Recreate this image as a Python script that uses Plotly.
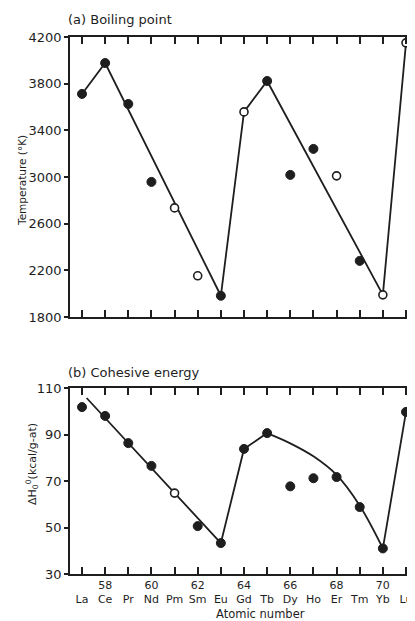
import plotly.graph_objects as go

# ---------------- data ----------------
atomic_numbers = [57, 58, 59, 60, 61, 62, 63, 64, 65, 66, 67, 68, 69, 70, 71]
elements = ["La", "Ce", "Pr", "Nd", "Pm", "Sm", "Eu", "Gd", "Tb", "Dy", "Ho", "Er", "Tm", "Yb", "Lu"]

# (a) boiling point, K
bp_filled_x = [57, 58, 59, 60, 63, 65, 66, 67, 69]
bp_filled_y = [3712, 3977, 3626, 2958, 1982, 3823, 3018, 3241, 2281]
bp_open_x = [61, 62, 64, 68, 70, 71]
bp_open_y = [2735, 2153, 3558, 3010, 1990, 4150]
bp_line_x = [57, 58, 63, 64, 65, 70, 71]
bp_line_y = [3712, 3977, 1982, 3558, 3823, 1990, 4150]

# (b) cohesive energy, kcal/g-at
ce_filled_x = [57, 58, 59, 60, 62, 63, 64, 65, 66, 67, 68, 69, 70, 71]
ce_filled_y = [101.8, 98.0, 86.3, 76.5, 50.6, 43.3, 83.8, 90.6, 67.7, 71.2, 71.7, 58.8, 41.0, 99.7]
ce_open_x = [61]
ce_open_y = [64.8]
ce_line1_x = [57.2, 63, 64, 65]
ce_line1_y = [105.7, 43.3, 83.8, 90.6]
ce_curve_x = [65, 66, 67, 68, 69, 70]
ce_curve_y = [90.6, 86.2, 80.6, 72.6, 59.4, 41.0]
ce_line2_x = [70, 71]
ce_line2_y = [41.0, 99.7]

bp_ticks = [1800, 2200, 2600, 3000, 3400, 3800, 4200]
ce_ticks = [30, 50, 70, 90, 110]

# ---------------- layout geometry ----------------
W, H = 415, 621
OFF = 8            # page body margin of the html page
INK = "#1e1e1e"
FONT = "DejaVu Sans"

L = 70 - OFF       # left edge of plot area in figure px
R_EDGE = 416 - OFF # right edge of plot area in figure px
PW = W - L - (W - R_EDGE)

def pdx(px):
    return (px - OFF - L) / PW

def pdy(py):
    return 1 - (py - OFF) / H

def dom(top, bottom):
    return [pdy(bottom), pdy(top)]

unit = (406 - 82) / 14.0
xr = [57 - (82 - 70) / unit, 71 + (416 - 406) / unit]

fig = go.Figure()

line_style = dict(color=INK, width=1.8)
filled_marker = dict(size=9, color=INK, line=dict(color=INK, width=1))
open_marker = dict(size=8, color="white", line=dict(color=INK, width=1.6))

# top panel (x2, y2)
fig.add_trace(go.Scatter(x=bp_line_x, y=bp_line_y, mode="lines", line=line_style,
                         xaxis="x2", yaxis="y2", hoverinfo="skip"))
fig.add_trace(go.Scatter(x=bp_filled_x, y=bp_filled_y, mode="markers", marker=filled_marker,
                         xaxis="x2", yaxis="y2"))
fig.add_trace(go.Scatter(x=bp_open_x, y=bp_open_y, mode="markers", marker=open_marker,
                         xaxis="x2", yaxis="y2"))

# bottom panel (x, y)
fig.add_trace(go.Scatter(x=ce_line1_x, y=ce_line1_y, mode="lines", line=line_style,
                         xaxis="x", yaxis="y", hoverinfo="skip"))
fig.add_trace(go.Scatter(x=ce_curve_x, y=ce_curve_y, mode="lines",
                         line=dict(color=INK, width=1.8, shape="spline", smoothing=1.0),
                         xaxis="x", yaxis="y", hoverinfo="skip"))
fig.add_trace(go.Scatter(x=ce_line2_x, y=ce_line2_y, mode="lines", line=line_style,
                         xaxis="x", yaxis="y", hoverinfo="skip"))
fig.add_trace(go.Scatter(x=ce_filled_x, y=ce_filled_y, mode="markers", marker=filled_marker,
                         xaxis="x", yaxis="y"))
fig.add_trace(go.Scatter(x=ce_open_x, y=ce_open_y, mode="markers", marker=open_marker,
                         xaxis="x", yaxis="y"))

# invisible traces for right-hand tick axes
fig.add_trace(go.Scatter(x=[None], y=[None], xaxis="x2", yaxis="y4", showlegend=False))
fig.add_trace(go.Scatter(x=[None], y=[None], xaxis="x", yaxis="y3", showlegend=False))

tick_text = []
for n, el in zip(atomic_numbers, elements):
    tick_text.append((str(n) if n % 2 == 0 else "\u00a0") + "<br>" + el)

x_common = dict(range=xr, tickmode="array", tickvals=atomic_numbers,
                ticks="inside", ticklen=7, tickwidth=1.5, tickcolor=INK,
                showline=True, linecolor=INK, linewidth=1.8, mirror="ticks",
                showgrid=False, zeroline=False, automargin=False, fixedrange=True)

y_common = dict(ticks="outside", ticklen=4, tickwidth=1.5, tickcolor=INK,
                showline=True, linecolor=INK, linewidth=1.8, mirror=False,
                showgrid=False, zeroline=False, automargin=False,
                tickfont=dict(size=13, color=INK, family=FONT))

y_right = dict(side="right", ticks="inside", ticklen=5, tickwidth=1.5, tickcolor=INK,
               showline=False, showgrid=False, zeroline=False, showticklabels=False,
               automargin=False)

fig.update_layout(
    width=W, height=H,
    margin=dict(l=L, r=W - R_EDGE, t=0, b=0, pad=0),
    paper_bgcolor="white", plot_bgcolor="white",
    showlegend=False,
    font=dict(family=FONT, color=INK),
    xaxis=dict(**x_common, domain=[0, 1], anchor="y",
               ticktext=tick_text, showticklabels=True,
               tickfont=dict(size=11, color=INK, family=FONT)),
    yaxis=dict(**y_common, domain=dom(388, 574), range=[30, 110],
               tickvals=ce_ticks, anchor="x"),
    yaxis3=dict(**y_right, overlaying="y", range=[30, 110], tickvals=ce_ticks, anchor="x"),
    xaxis2=dict(**x_common, domain=[0, 1], anchor="y2", showticklabels=False),
    yaxis2=dict(**y_common, domain=dom(37, 317), range=[1800, 4200],
                tickvals=bp_ticks, anchor="x2"),
    yaxis4=dict(**y_right, overlaying="y2", range=[1800, 4200], tickvals=bp_ticks, anchor="x2"),
)

annotations = [
    dict(text="(a) Boiling point", x=pdx(66), y=pdy(20), xref="paper", yref="paper",
         xanchor="left", yanchor="middle", showarrow=False, font=dict(size=13, color=INK)),
    dict(text="(b) Cohesive energy", x=pdx(66), y=pdy(372), xref="paper", yref="paper",
         xanchor="left", yanchor="middle", showarrow=False, font=dict(size=13, color=INK)),
    dict(text="Temperature (°K)", x=pdx(22), y=pdy(181), xref="paper", yref="paper",
         xanchor="center", yanchor="middle", textangle=-90, showarrow=False,
         font=dict(size=10.5, color=INK)),
    dict(text="ΔH<sub>0</sub><sup>0</sup>(kcal/g-at)", x=pdx(32), y=pdy(464),
         xref="paper", yref="paper", xanchor="center", yanchor="middle", textangle=-90,
         showarrow=False, font=dict(size=11, color=INK)),
    dict(text="Atomic number", x=pdx(260), y=pdy(614), xref="paper", yref="paper",
         xanchor="center", yanchor="middle", showarrow=False, font=dict(size=11.5, color=INK)),
]
fig.update_layout(annotations=annotations)

fig.write_html("out.html")
